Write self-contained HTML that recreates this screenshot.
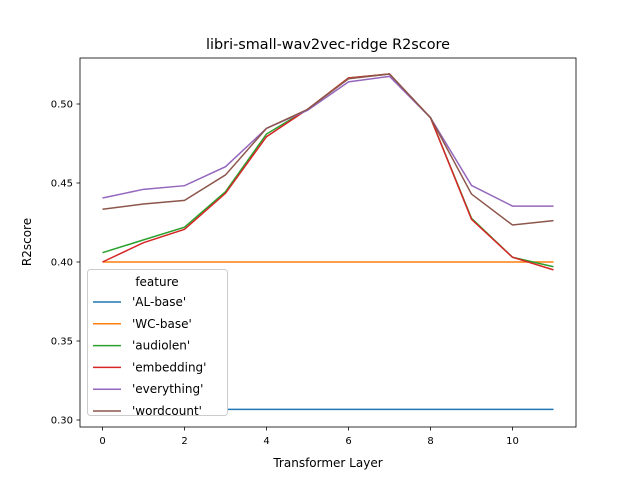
<!DOCTYPE html>
<html><head><meta charset="utf-8"><style>
body{margin:0;background:#fff}
svg{display:block;font-family:"DejaVu Sans","Liberation Sans",sans-serif}
</style></head><body>
<svg id="chart" width="640" height="480" viewBox="0 0 640 480">
<rect width="640" height="480" fill="#fff"/>
<text x="328" y="49" font-size="14.4" text-anchor="middle">libri-small-wav2vec-ridge R2score</text>
<g id="ticks"></g>
<g id="lines"></g>
<rect x="80" y="58" width="496" height="369" fill="none" stroke="#000" stroke-width="0.8"/>
<text x="328" y="467" font-size="12" text-anchor="middle">Transformer Layer</text>
<text transform="translate(31,242) rotate(-90)" font-size="12" text-anchor="middle">R2score</text>
<g id="legend">
<rect x="87.5" y="269.5" width="140" height="146" rx="3" fill="#fff" stroke="#ccc"/>
<text x="157" y="286" font-size="12" text-anchor="middle">feature</text>
</g>
</svg>
<script>
const layers=[0,1,2,3,4,5,6,7,8,9,10,11];
const seriesNames=["'AL-base'","'WC-base'","'audiolen'","'embedding'","'everything'","'wordcount'"];
const alBase=[0.3067,0.3067,0.3067,0.3067,0.3067,0.3067,0.3067,0.3067,0.3067,0.3067,0.3067,0.3067];
const wcBase=[0.400,0.400,0.400,0.400,0.400,0.400,0.400,0.400,0.400,0.400,0.400,0.400];
const audiolen=[0.4059,0.414,0.422,0.4445,0.481,0.4966,0.5165,0.519,0.4913,0.4277,0.403,0.397];
const embedding=[0.400,0.4122,0.4207,0.4435,0.4793,0.4966,0.5165,0.519,0.4913,0.427,0.403,0.395];
const everything=[0.4405,0.446,0.4483,0.4603,0.4846,0.496,0.514,0.5175,0.4913,0.4485,0.4354,0.4354];
const wordcount=[0.4334,0.4367,0.439,0.4551,0.4846,0.4966,0.516,0.519,0.4913,0.443,0.4234,0.4262];
const xTicks=[0,2,4,6,8,10];
const yTicks=[0.30,0.35,0.40,0.45,0.50];
const colors=["#1f77b4","#ff7f0e","#2ca02c","#d62728","#9467bd","#8c564b"];
const allSeries=[alBase,wcBase,audiolen,embedding,everything,wordcount];
const NS="http://www.w3.org/2000/svg";
const xs=v=>102.5+v*41;
const ys=v=>104-(v-0.5)*1580;
function mk(tag,attrs,parent){const e=document.createElementNS(NS,tag);for(const k in attrs)e.setAttribute(k,attrs[k]);parent.appendChild(e);return e;}
const tg=document.getElementById('ticks');
xTicks.forEach(t=>{
  const l=mk('line',{x1:xs(t),x2:xs(t),y1:427,y2:430.5,stroke:'#000','stroke-width':0.8},tg);
  
  
  const tx=mk('text',{x:xs(t),y:444,'font-size':10,'text-anchor':'middle'},tg);
  tx.textContent=String(t);
  
  
});
yTicks.forEach(t=>{
  const l=mk('line',{x1:76.5,x2:80,y1:ys(t),y2:ys(t),stroke:'#000','stroke-width':0.8},tg);
  
  
  const tx=mk('text',{x:73,y:ys(t)+3.5,'font-size':10,'text-anchor':'end'},tg);
  tx.textContent=t.toFixed(2);
  
  
});
const lg=document.getElementById('lines');
allSeries.forEach((s,i)=>{
  const p=mk('polyline',{points:s.map((v,j)=>xs(layers[j])+','+ys(v)).join(' '),fill:'none',stroke:colors[i],'stroke-width':1.5},lg);
  
  
});
const leg=document.getElementById('legend');
seriesNames.forEach((n,i)=>{
  const y=302+i*21.8;
  const l=mk('line',{x1:93,x2:121,y1:y,y2:y,stroke:colors[i],'stroke-width':1.5},leg);
  
  
  const t=mk('text',{x:132,y:y+4,'font-size':12},leg);
  t.textContent=' '+n;
  
  
});
</script>
</body></html>
